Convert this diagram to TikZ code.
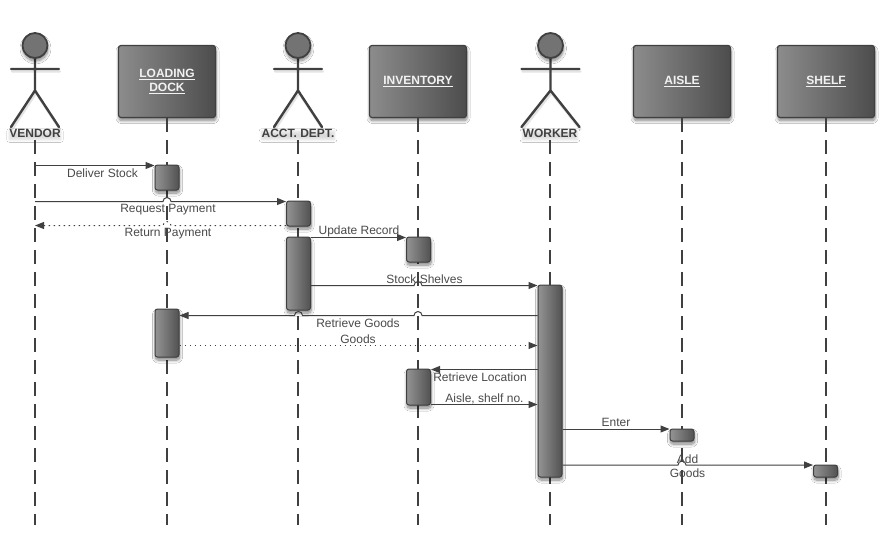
\documentclass[tikz,border=0pt]{standalone}
\usepackage{fontspec}
\setmainfont{Liberation Sans}
\usetikzlibrary{arrows.meta,shadows.blur}
\definecolor{ink}{HTML}{404040}
\definecolor{txt}{HTML}{4A4A4A}
\tikzset{
  softshadow/.style={blur shadow={shadow xshift=0.5pt,shadow yshift=-3pt,shadow blur steps=10,shadow blur radius=3pt,shadow opacity=50}},
  obj/.style={draw=ink,line width=1.2pt,rounded corners=2.5pt,left color=black!45,right color=black!70,softshadow,
    minimum width=97pt,minimum height=72pt,inner sep=0pt,align=center,text=white!95!black,
    font=\fontsize{12}{14.5}\selectfont\bfseries},
  act/.style={draw=ink,line width=1pt,rounded corners=2.5pt,left color=black!42,right color=black!68,softshadow,
    minimum width=24pt,inner sep=0pt},
  life/.style={draw=ink,line width=1.2pt,dash pattern=on 14pt off 8pt},
  limb/.style={draw=ink,line width=2.4pt,line cap=round},
  limbshade/.style={draw=black!30,line width=2.4pt,line cap=round,opacity=.35},
  head/.style={circle,draw=ink,line width=1.8pt,fill=black!55,minimum size=25pt,inner sep=0pt},
  actlab/.style={text=ink,font=\fontsize{12}{14}\selectfont\bfseries,inner sep=0pt,
    blur shadow={shadow xshift=0pt,shadow yshift=-2pt,shadow blur steps=6,shadow blur radius=2.5pt,shadow opacity=14}},
  msg/.style={draw=ink,line width=1pt,-{Triangle[length=9pt,width=7pt]}},
  ret/.style={draw=ink,line width=1pt,dash pattern=on 1.5pt off 3.5pt,-{Triangle[length=9pt,width=7pt]}},
  lab/.style={text=txt,font=\fontsize{12}{14}\selectfont,inner sep=0pt,align=center},
}
\newcommand{\stick}[3]{% name, x, half-arm
  \begin{scope}[shift={(#2,0)}]
    \draw[limbshade] (-#3+1,71.5) -- (#3+1,71.5) (1,93) -- (-#3+1,129.5) (1,93) -- (#3+1,129.5);
    \draw[limb] (0,58) -- (0,90.5) (-#3,69) -- (#3,69) (0,90.5) -- (-#3,127) (0,90.5) -- (#3,127);
    \node[head,softshadow] (#1) at (0,45.5) {};
  \end{scope}}
\begin{document}
\begin{tikzpicture}[x=1pt,y=-1pt]
\useasboundingbox[fill=white] (0,0) rectangle (886,558);
% objects
\node[obj] (dock) at (167,81.5) {\underline{LOADING}\\\underline{DOCK}};
\node[obj] (inv) at (418,81.5) {\underline{INVENTORY}};
\node[obj] (aisle) at (682,81.5) {\underline{AISLE}};
\node[obj] (shelf) at (826,81.5) {\underline{SHELF}};
% lifeline ends
\coordinate (vtop) at (35,140);
\coordinate (atop) at (298,140);
\coordinate (wtop) at (550,140);
\coordinate (vend) at (35,525);
\coordinate (dend) at (167,525);
\coordinate (aend) at (298,525);
\coordinate (iend) at (418,525);
\coordinate (wend) at (550,525);
\coordinate (send) at (682,525);
\coordinate (hend) at (826,525);
\draw[life] (vtop) -- (vend);
\draw[life] (dock.south) -- (dend);
\draw[life] (atop) -- (aend);
\draw[life] (inv.south) -- (iend);
\draw[life] (wtop) -- (wend);
\draw[life] (aisle.south) -- (send);
\draw[life] (shelf.south) -- (hend);
% actors
\stick{vhead}{35}{24}
\stick{ahead}{298}{24}
\stick{whead}{550.5}{29}
\node[actlab] (vendor) at (35,133.5) {VENDOR};
\node[actlab] (acct) at (298,133.5) {ACCT. DEPT.};
\node[actlab] (worker) at (550,133.5) {WORKER};
% activations
\node[act,minimum height=25pt] (a1) at (167,177.5) {};
\node[act,minimum height=25pt] (a2) at (298.5,213.5) {};
\node[act,minimum height=73pt] (a3) at (298.5,273.5) {};
\node[act,minimum height=25pt] (a4) at (418.5,249.5) {};
\node[act,minimum height=192pt] (a5) at (550,381) {};
\node[act,minimum height=48pt] (a6) at (167,333) {};
\node[act,minimum height=36pt] (a7) at (418.5,387) {};
\node[act,minimum height=12pt] (a8) at (682,435) {};
\node[act,minimum height=12pt] (a9) at (825.5,471) {};
% message anchor points
\coordinate (m1) at (35,165.5);
\coordinate (m2) at (35,201.5);
\coordinate (m3) at (35,225.5);
\coordinate (m4) at (350,237.5);
\coordinate (m5) at (418,285.5);
\coordinate (m6) at (418,315.5);
\coordinate (m6b) at (298.5,315.5);
\coordinate (m7) at (350,345.5);
\coordinate (m8) at (480,369.5);
\coordinate (m9) at (480,404.5);
\coordinate (m10) at (616,429);
\coordinate (m11) at (682,465);
\coordinate (h2) at (167,201.5);
\coordinate (h3) at (167,225.5);
% messages
\draw[msg] (m1) -- (m1 -| a1.west);
\draw[msg] (m2) -- ([xshift=-4pt]h2) arc[start angle=180,end angle=0,radius=4pt] -- (m2 -| a2.west);
\draw[ret] (m3 -| a2.west) -- ([xshift=4pt]h3) arc[start angle=0,end angle=180,radius=4pt] -- (m3);
\draw[msg] (m4 -| a3.east) -- (m4 -| a4.west);
\draw[msg] (m5 -| a3.east) -- ([xshift=-4pt]m5) arc[start angle=180,end angle=0,radius=4pt] -- (m5 -| a5.west);
\draw[msg] (m6 -| a5.west) -- ([xshift=4pt]m6) arc[start angle=0,end angle=180,radius=4pt] -- ([xshift=4pt]m6b) arc[start angle=0,end angle=180,radius=4pt] -- (m6 -| a6.east);
\draw[ret] (m7 -| a6.east) -- (m7 -| a5.west);
\draw[msg] (m8 -| a5.west) -- (m8 -| a7.east);
\draw[msg] (m9 -| a7.east) -- (m9 -| a5.west);
\draw[msg] (m10 -| a5.east) -- (m10 -| a8.west);
\draw[msg] (m11 -| a5.east) -- ([xshift=-4pt]m11) arc[start angle=180,end angle=0,radius=4pt] -- (m11 -| a9.west);
% labels
\node[lab] (l1) at (102.5,173) {Deliver Stock};
\node[lab] (l2) at (168,209.5) {Request Payment};
\node[lab] (l3) at (168,233.5) {Return Payment};
\node[lab] (l4) at (359,231) {Update Record};
\node[lab] (l5) at (424.5,279) {Stock Shelves};
\node[lab] (l6) at (358,323) {Retrieve Goods};
\node[lab] (l7) at (358,339) {Goods};
\node[lab] (l8) at (480,377) {Retrieve Location};
\node[lab] (l9) at (484.5,398.5) {Aisle, shelf no.};
\node[lab] (l10) at (616,422.5) {Enter};
\node[lab,text width=50pt] (l11) at (687.5,466) {Add\\[0pt]Goods};
\end{tikzpicture}
\end{document}
